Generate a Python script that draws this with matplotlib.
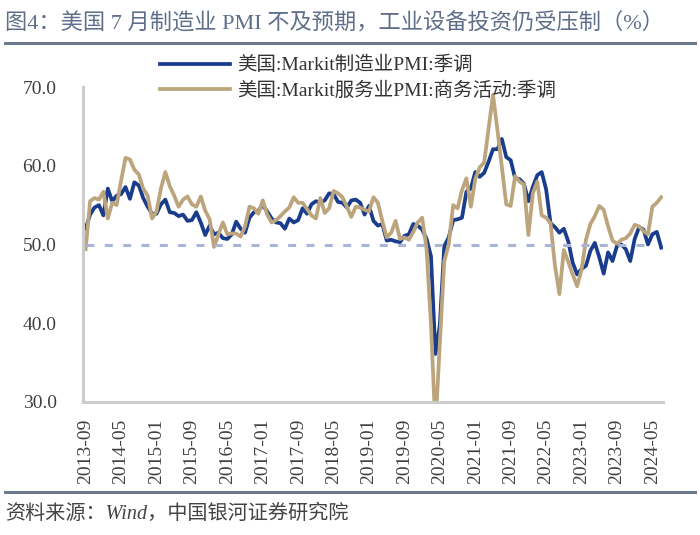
import matplotlib
matplotlib.use("Agg")
import matplotlib.pyplot as plt
from matplotlib.lines import Line2D

# 月份标签：2013-09 至 2024-07
months = []
for yr in range(2013, 2025):
    for mo in range(1, 13):
        if (yr == 2013 and mo < 9) or (yr == 2024 and mo > 7):
            continue
        months.append(f"{yr}-{mo:02d}")

# 美国:Markit制造业PMI:季调
mfg_pmi = [52.0, 53.8, 54.7, 55.0,
           53.7, 57.1, 55.5, 56.2, 56.4, 57.3, 55.8, 57.9, 57.5, 55.9, 54.8, 53.9,
           53.9, 55.1, 55.7, 54.1, 54.0, 53.6, 53.8, 53.0, 53.1, 54.1, 52.8, 51.2,
           52.4, 51.3, 51.5, 50.8, 50.7, 51.3, 52.9, 52.0, 51.5, 53.4, 54.1, 54.3,
           55.0, 54.2, 53.3, 52.8, 52.7, 52.0, 53.3, 52.8, 53.1, 54.6, 53.9, 55.1,
           55.5, 55.3, 55.6, 56.5, 56.4, 55.4, 55.3, 54.7, 55.6, 55.7, 55.3, 53.8,
           54.9, 53.0, 52.4, 52.6, 50.5, 50.6, 50.4, 50.3, 51.1, 51.3, 52.6, 52.4,
           51.9, 50.7, 48.5, 36.1, 39.8, 49.8, 50.9, 53.1, 53.2, 53.4, 56.7, 57.1,
           59.2, 58.6, 59.1, 60.5, 62.1, 62.1, 63.4, 61.1, 60.7, 58.4, 58.3, 57.7,
           55.5, 57.3, 58.8, 59.2, 57.0, 52.7, 52.2, 51.5, 52.0, 50.4, 47.7, 46.2,
           46.9, 47.3, 49.2, 50.2, 48.4, 46.3, 49.0, 47.9, 49.8, 50.0, 49.4, 47.9,
           50.7, 52.2, 51.9, 50.0, 51.3, 51.6, 49.6]

# 美国:Markit服务业PMI:商务活动:季调
svc_pmi = [49.4, 55.5, 55.9, 55.7,
           56.7, 53.3, 55.3, 55.0, 58.1, 61.0, 60.8, 59.5, 58.9, 57.1, 56.2, 53.3,
           54.2, 57.1, 59.2, 57.4, 56.2, 54.8, 55.7, 56.1, 55.1, 54.8, 56.1, 54.3,
           53.2, 49.7, 51.3, 52.8, 51.3, 51.4, 51.4, 51.0, 52.3, 54.8, 54.6, 53.9,
           55.6, 53.8, 52.8, 53.1, 53.6, 54.2, 54.7, 56.0, 55.3, 55.3, 54.5, 53.7,
           53.3, 55.9, 54.0, 54.6, 56.8, 56.5, 56.0, 54.8, 53.5, 54.8, 54.7, 54.4,
           54.2, 56.0, 55.3, 53.0, 50.9, 51.5, 53.0, 50.7, 50.9, 50.6, 51.6, 52.8,
           53.4, 49.4, 39.8, 26.7, 37.5, 47.9, 50.0, 55.0, 54.6, 56.9, 58.4, 54.8,
           58.3, 59.8, 60.4, 64.7, 69.0, 64.6, 59.9, 55.1, 54.9, 58.7, 58.0, 57.6,
           51.2, 56.5, 58.0, 53.7, 53.4, 52.7, 47.3, 43.7, 49.3, 47.8, 46.2, 44.7,
           46.8, 50.6, 52.6, 53.6, 54.9, 54.4, 52.3, 50.5, 50.1, 50.6, 50.8, 51.4,
           52.5, 52.3, 51.7, 51.3, 54.8, 55.3, 56.0]

threshold = 50
labels = ["美国:Markit制造业PMI:季调", "美国:Markit服务业PMI:商务活动:季调"]

serif_cjk = ["Liberation Serif", "Noto Sans CJK SC"]
plt.rcParams["font.family"] = serif_cjk

W, H = 700, 535
fig = plt.figure(figsize=(W / 100, H / 100), dpi=100)
ax = fig.add_axes([83 / W, 1 - 402 / H, (663 - 83) / W, (402 - 87) / H])

x = list(range(len(months)))
ax.plot(x, mfg_pmi, color="#1a3c8c", lw=2.7, label=labels[0], solid_joinstyle="round")
ax.plot(x, svc_pmi, color="#bca57d", lw=2.7, label=labels[1], solid_joinstyle="round")
ax.hlines(threshold, 0, len(months) - 5, colors="#a9b5d7", lw=2.2,
          linestyles=(0, (2.6, 3.4)))

ax.set_ylim(30, 70)
ax.set_xlim(-0.6, 130.4)
ax.set_yticks([30, 40, 50, 60, 70])
ax.set_yticklabels([f"{v:.1f}" for v in [30, 40, 50, 60, 70]])
ax.set_xticks(x[::8])
ax.set_xticklabels(months[::8], rotation=90)
ax.tick_params(length=0, labelsize=14, labelcolor="#404040")
ax.tick_params(axis="y", pad=19)
ax.tick_params(axis="x", pad=12)

for s in ["top", "right"]:
    ax.spines[s].set_visible(False)
for s in ["left", "bottom"]:
    ax.spines[s].set_color("#cccccc")
    ax.spines[s].set_linewidth(2.2)

leg = ax.legend(loc="upper left", bbox_to_anchor=(160 / W, 1 - 56 / H),
                bbox_transform=fig.transFigure, frameon=False, fontsize=14,
                handlelength=3.6, handletextpad=0.35, labelspacing=0.38,
                borderpad=0, borderaxespad=0)
for t in leg.get_texts():
    t.set_color("#333333")

# 标题与分隔线
fig.text(5 / W, 1 - 23 / H, "图4：美国 7 月制造业 PMI 不及预期，工业设备投资仍受压制（%）",
         fontsize=16, color="#5f6f8a", va="center", ha="left")
fig.add_artist(Line2D([5 / W, 695 / W], [1 - 43 / H] * 2, color="#6d7a8e", lw=2.2))
fig.add_artist(Line2D([5 / W, 695 / W], [1 - 492 / H] * 2, color="#6d7a8e", lw=2.2))
fig.text(5 / W, 1 - 514 / H, "资料来源：Wind，中国银河证券研究院",
         fontsize=14.5, color="#444444", va="center", ha="left", style="italic")

fig.savefig("out.png", dpi=100)
